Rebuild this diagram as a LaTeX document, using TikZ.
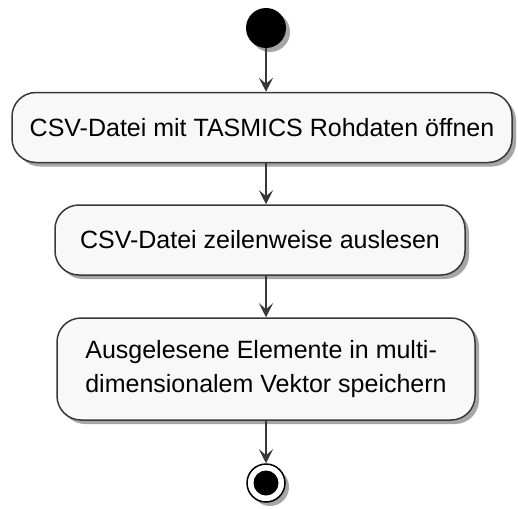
\documentclass[tikz,border=0pt]{standalone}
\usepackage{fontspec}
\setmainfont{Liberation Sans}
\usepackage{xcolor}
\usetikzlibrary{arrows.meta, positioning, shadows}
\definecolor{actfill}{HTML}{F8F8F8}
\definecolor{actline}{HTML}{383838}
\tikzset{
    act/.style={rectangle, draw=actline, fill=actfill, line width=1.5pt, rounded corners=24pt, minimum height=70pt, inner sep=0pt, font=\fontsize{25}{34}\selectfont, drop shadow={shadow xshift=4pt, shadow yshift=-4pt, fill=black, opacity=0.35}},
    startnode/.style={circle, fill=black, minimum size=40pt, inner sep=0pt, drop shadow={shadow xshift=4pt, shadow yshift=-4pt, fill=black, opacity=0.35}},
    stopnode/.style={circle, draw=black, line width=1.5pt, fill=white, minimum size=38pt, inner sep=0pt, drop shadow={shadow xshift=4pt, shadow yshift=-4pt, fill=black, opacity=0.35}},
    arrow/.style={-{Stealth[length=14pt, width=14pt, inset=6pt]}, draw=actline, line width=1.5pt},
}

\begin{document}
\begin{tikzpicture}[x=1pt, y=1pt]
    \useasboundingbox (0,0) rectangle (518,-508);
    % Start / stop
    \node[startnode] (start) at (266,-28) {};
    \node[stopnode] (stop) at (266,-483) {};
    \fill (stop) circle (12.5pt);

    % Activities
    \node[act, minimum width=500pt] (open) at (262,-127.5) {CSV-Datei mit TASMICS Rohdaten öffnen};
    \node[act, minimum width=410pt] (read) at (260,-240) {CSV-Datei zeilenweise auslesen};
    \node[act, minimum width=418pt, minimum height=102pt, align=left] (store) at (266,-369) {Ausgelesene Elemente in multi-\\dimensionalem Vektor speichern};

    % Arrows
    \draw[arrow] (start) -- (start |- open.north);
    \draw[arrow] (start |- open.south) -- (start |- read.north);
    \draw[arrow] (start |- read.south) -- (start |- store.north);
    \draw[arrow] (store) -- (stop);
\end{tikzpicture}
\end{document}
